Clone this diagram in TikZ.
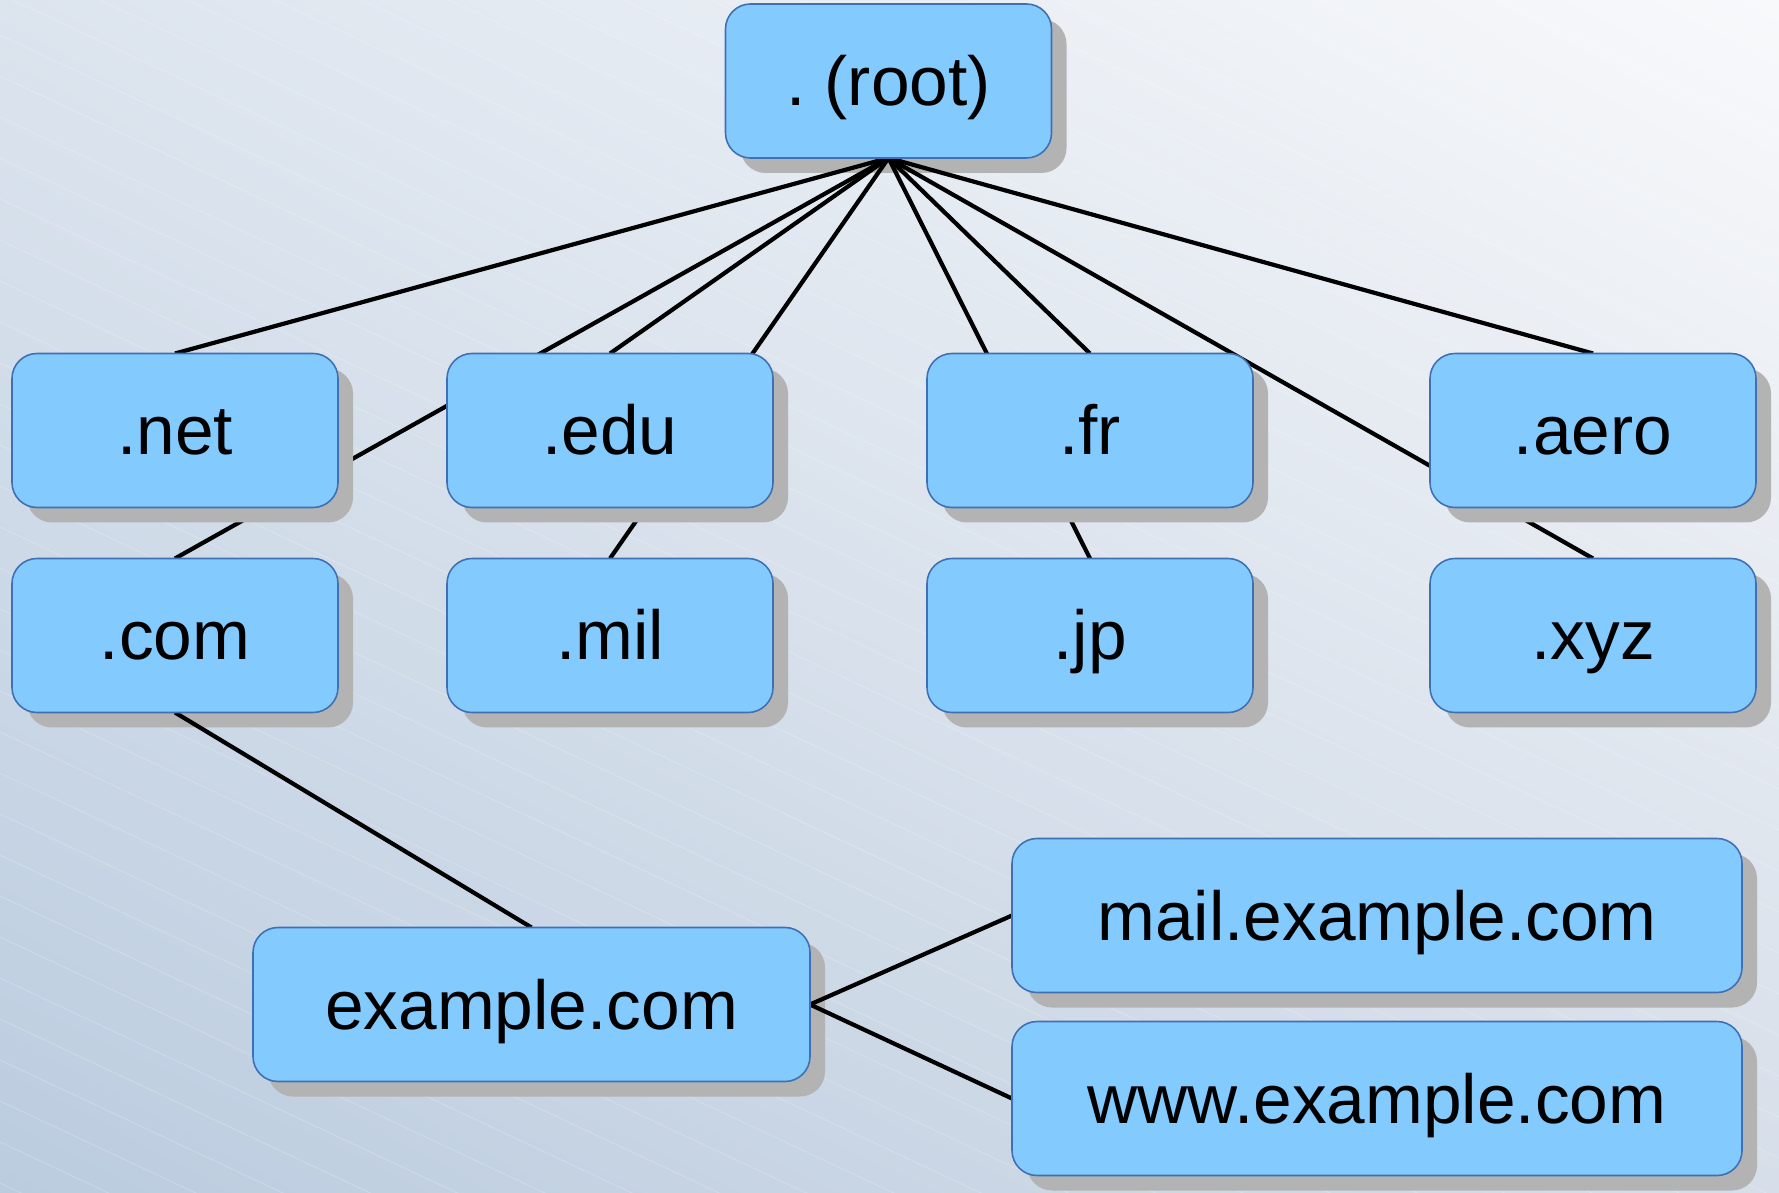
\documentclass[tikz,border=0pt]{standalone}
\usepackage{fontspec}
\setmainfont{Liberation Sans}
\usepackage{tikz}
\usetikzlibrary{positioning,shadows,shadings,backgrounds}
\definecolor{boxblue}{RGB}{131,202,255}
\definecolor{edgeblue}{RGB}{64,112,180}
\definecolor{shadowgray}{RGB}{179,179,179}
\definecolor{bglight}{RGB}{248,249,251}
\definecolor{bgmid}{RGB}{220,228,238}
\definecolor{bgmidlow}{RGB}{214,222,233}
\definecolor{bgdark}{RGB}{187,204,223}
\pgfdeclarelayer{backdrop}
\pgfsetlayers{backdrop,background,main}

\begin{document}
\begin{tikzpicture}[node distance=0.51cm, every node/.style={font=\fontsize{19.75}{24}\selectfont}]
\tikzstyle{pdom}=[rounded corners=0.25cm, draw=edgeblue, line width=0.45pt, fill=boxblue, minimum width=3.26cm, minimum height=1.54cm, inner sep=0pt, outer sep=0pt, text height=0.6cm, text depth=0.11cm]
\tikzstyle{dom}=[pdom, drop shadow={shadow xshift=0.15cm, shadow yshift=-0.15cm, fill=shadowgray, opacity=1}]
\tikzstyle{wdom}=[pdom, minimum width=5.57cm]
\tikzstyle{hdom}=[dom, minimum width=7.3cm]
\tikzstyle{link}=[line width=1.2pt, black]
\useasboundingbox (0,0) rectangle (17.79,11.92);
\node[pdom] (root) at (8.885,11.11) {.\ (root)};
\node[dom] (net) at (1.75,7.615) {.net};
\node[dom, right=1.09cm of net] (edu) {.edu};
\node[dom, right=1.54cm of edu] (fr) {.fr};
\node[dom, right=1.77cm of fr] (aero) {.aero};
\node[pdom, below=of net] (com) {.com};
\node[dom, below=of edu] (mil) {.mil};
\node[dom, below=of fr] (jp) {.jp};
\node[dom, below=of aero] (xyz) {.xyz};
\node[wdom] (example) at (5.315,1.875) {example.com};
\node[hdom] (mail) at (13.77,2.765) {mail.example.com};
\node[hdom, below=0.29cm of mail] (www) {www.example.com};
\begin{pgfonlayer}{background}
\foreach \d in {net,edu,fr,aero,com,mil,jp,xyz} \draw[link] (root.south) -- (\d.north);
\draw[link] (com.south) -- (example.north);
\draw[link] (example.east) -- (mail.west);
\draw[link] (example.east) -- (www.west);
\end{pgfonlayer}
\begin{pgfonlayer}{backdrop}
\shade[upper left=bgmid, upper right=bglight, lower left=bgdark, lower right=bgmidlow] (0,0) rectangle (17.79,11.92);
\clip (0,0) rectangle (17.79,11.92);
\foreach \k in {-20,...,29} \draw[white, opacity=0.18, line width=0.3pt] (0,{11.98-0.41*\k}) -- (17.79,{3.62-0.41*\k});
\foreach \p in {root,com,example} \fill[shadowgray, rounded corners=0.25cm] ([xshift=0.15cm, yshift=-0.15cm]\p.south west) rectangle ([xshift=0.15cm, yshift=-0.15cm]\p.north east);
\end{pgfonlayer}
\end{tikzpicture}
\end{document}
